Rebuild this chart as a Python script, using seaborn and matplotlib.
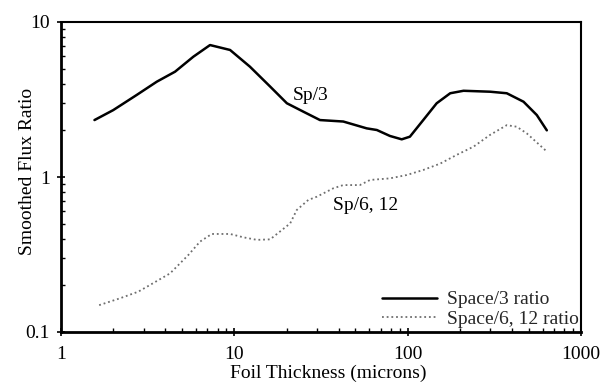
import matplotlib
matplotlib.use("Agg")
import matplotlib.pyplot as plt
import matplotlib.ticker as mticker
import numpy as np
import pandas as pd
import seaborn as sns

# ---- data ----
sp3_x = [1.56, 2.0, 2.73, 3.57, 4.55, 5.8, 7.24, 9.45, 12.3, 16.1, 20.1, 25, 31.2,
         42.5, 58, 66.4, 79, 92.4, 103, 123, 147, 176, 210, 299, 373, 466, 556, 635]
sp3_y = [2.33, 2.7, 3.38, 4.12, 4.78, 5.97, 7.1, 6.6, 5.15, 3.83, 2.99, 2.64, 2.33,
         2.28, 2.06, 2.01, 1.84, 1.75, 1.82, 2.33, 2.99, 3.47, 3.6, 3.55, 3.47, 3.06, 2.51, 2.0]

sp612_x = [1.66, 2.19, 2.79, 3.26, 4.26, 5.43, 6.34, 7.41, 9.45, 11.3, 13.5, 16.1, 21,
           22.9, 26.7, 29.9, 37.2, 42.5, 53, 60.7, 79, 98.8, 123, 154, 192, 240, 299,
           373, 426, 487, 635]
sp612_y = [0.149, 0.165, 0.182, 0.201, 0.239, 0.314, 0.383, 0.429, 0.429, 0.408, 0.393,
           0.396, 0.502, 0.612, 0.711, 0.746, 0.845, 0.887, 0.887, 0.957, 0.98, 1.03,
           1.11, 1.22, 1.39, 1.57, 1.87, 2.16, 2.11, 1.91, 1.46]

series_names = ["Space/3 ratio", "Space/6, 12 ratio"]
x_ticks = [1, 10, 100, 1000]
x_ticklabels = ["1", "10", "100", "1000"]
y_ticks = [0.1, 1, 10]
y_ticklabels = ["0.1", "1", "10"]
annot_text = ["Sp/3", "Sp/6, 12"]
annot_pos = [(21.8, 3.38), (37.1, 0.65)]

sns.set_style("ticks")
plt.rcParams["font.family"] = ["Liberation Serif", "DejaVu Serif"]
FS = 14

fig = plt.figure(figsize=(6.16, 3.87), dpi=100)
ax = fig.add_axes([61 / 616, 1 - 332 / 387, 520 / 616, 310 / 387])

df1 = pd.DataFrame({"x": sp3_x, "y": sp3_y})
df2 = pd.DataFrame({"x": sp612_x, "y": sp612_y})
sns.lineplot(data=df1, x="x", y="y", ax=ax, color="black", linewidth=1.8,
             sort=False, estimator=None, label=series_names[0])
sns.lineplot(data=df2, x="x", y="y", ax=ax, color="#6e6e6e", linewidth=1.3,
             sort=False, estimator=None, label=series_names[1],
             linestyle=(0, (1, 1.6)))

ax.set_xscale("log")
ax.set_yscale("log")
ax.set_xlim(1, 1000)
ax.set_ylim(0.1, 10)

ax.xaxis.set_major_locator(mticker.FixedLocator(x_ticks))
ax.xaxis.set_major_formatter(mticker.FixedFormatter(x_ticklabels))
ax.yaxis.set_major_locator(mticker.FixedLocator(y_ticks))
ax.yaxis.set_major_formatter(mticker.FixedFormatter(y_ticklabels))
ax.xaxis.set_minor_locator(mticker.LogLocator(base=10, subs=np.arange(2, 10)))
ax.yaxis.set_minor_locator(mticker.LogLocator(base=10, subs=np.arange(2, 10)))
ax.xaxis.set_minor_formatter(mticker.NullFormatter())
ax.yaxis.set_minor_formatter(mticker.NullFormatter())

ax.tick_params(which="major", direction="inout", length=6, width=1.2,
               labelsize=FS, color="black", labelcolor="black", pad=5)
ax.tick_params(which="minor", direction="in", length=3, width=1.0, color="black")
ax.tick_params(axis="x", which="major", pad=7)

for side in ["left", "bottom"]:
    ax.spines[side].set_linewidth(2.0)
for side in ["top", "right"]:
    ax.spines[side].set_linewidth(1.5)
for s in ax.spines.values():
    s.set_color("black")
    s.set_visible(True)

ax.set_xlabel("Foil Thickness (microns)", fontsize=FS, color="black")
ax.set_ylabel("Smoothed Flux Ratio", fontsize=FS, color="black")
ax.xaxis.set_label_coords(0.513, -0.105)
ax.yaxis.set_label_coords(-0.065, 0.519)
ax.yaxis.label.set_verticalalignment("center")

for t, (tx, ty) in zip(annot_text, annot_pos):
    ax.text(tx, ty, t, fontsize=FS, ha="left", va="center", color="black")

leg = ax.legend(loc="lower right", bbox_to_anchor=(0.996, 0.012), frameon=False,
                fontsize=FS, handlelength=2.85, handletextpad=0.5,
                labelspacing=0.12, borderpad=0, borderaxespad=0)

fig.savefig("out.png", dpi=100)
